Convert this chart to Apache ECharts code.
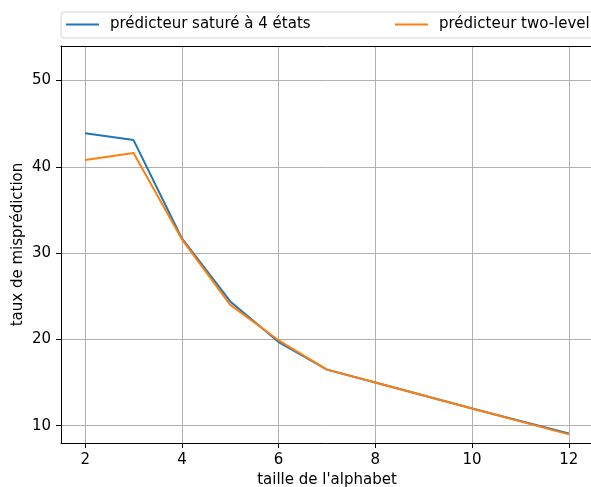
<!DOCTYPE html>
<html>
<head>
<meta charset="utf-8">
<script src="https://cdn.jsdelivr.net/npm/echarts@6/dist/echarts.min.js"></script>
<style>
  html, body { margin: 0; padding: 0; background: #fff; }
  #chart { width: 591px; height: 487px; }
</style>
</head>
<body>
<div id="chart"></div>
<script>
// taille de l'alphabet
var alphabetSizes = [2, 3, 4, 5, 6, 7, 8, 10, 12];
// taux de misprédiction
var satureValues = [43.9, 43.1, 31.7, 24.4, 19.7, 16.5, 15.0, 12.0, 9.1];
var twoLevelValues = [40.8, 41.6, 31.6, 24.0, 19.9, 16.5, 15.0, 12.0, 9.0];

var xTicks = [2, 4, 6, 8, 10, 12];
var yTicks = [10, 20, 30, 40, 50];

var seriesNames = ['prédicteur saturé à 4 états', 'prédicteur two-level'];

function pairs(xs, ys) {
  return xs.map(function (x, i) { return [x, ys[i]]; });
}

var font = 'DejaVu Sans';
var chart = echarts.init(document.getElementById('chart'));

var legendBase = {
  orient: 'horizontal',
  top: 17,
  padding: 0,
  icon: 'rect',
  itemWidth: 33,
  itemHeight: 2,
  textStyle: { fontFamily: font, fontSize: 15, color: '#000', padding: [0, 0, 0, 6] },
  selectedMode: false
};

var option = {
  animation: false,
  backgroundColor: '#fff',
  graphic: [
    {
      type: 'rect',
      z: -1,
      shape: { x: 61, y: 12, width: 540, height: 26, r: 3 },
      style: { fill: '#fff', stroke: '#d4d4d4', lineWidth: 1 }
    }
  ],
  legend: [
    Object.assign({ left: 66, data: [seriesNames[0]] }, legendBase),
    Object.assign({ left: 395, data: [seriesNames[1]] }, legendBase)
  ],
  grid: { left: 61, top: 46, width: 532, height: 397, containLabel: false, outerBoundsMode: 'none' },
  xAxis: [
    {
      type: 'value',
      min: 1.5,
      max: 12.5,
      name: "taille de l'alphabet",
      nameLocation: 'middle',
      nameGap: 30,
      nameMoveOverlap: false,
      nameTextStyle: { fontFamily: font, fontSize: 15, color: '#000' },
      axisLine: { onZero: false, lineStyle: { color: '#000', width: 1 } },
      axisTick: { show: true, length: 5, inside: false, customValues: xTicks, lineStyle: { color: '#000' } },
      axisLabel: { customValues: xTicks, margin: 10, fontFamily: font, fontSize: 15, color: '#000' },
      splitLine: { show: true, lineStyle: { color: '#b0b0b0', width: 1 } }
    },
    {
      type: 'value',
      position: 'top',
      min: 1.5,
      max: 12.5,
      axisLine: { show: true, onZero: false, lineStyle: { color: '#000', width: 1 } },
      axisTick: { show: false },
      axisLabel: { show: false },
      splitLine: { show: false }
    }
  ],
  yAxis: {
    type: 'value',
    min: 8,
    max: 54,
    name: 'taux de misprédiction',
    nameLocation: 'middle',
    nameGap: 35,
    nameMoveOverlap: false,
    nameTextStyle: { fontFamily: font, fontSize: 15, color: '#000' },
    axisLine: { show: true, onZero: false, lineStyle: { color: '#000', width: 1 } },
    axisTick: { show: true, length: 5, inside: false, customValues: yTicks, lineStyle: { color: '#000' } },
    axisLabel: { customValues: yTicks, margin: 10, fontFamily: font, fontSize: 15, color: '#000' },
    splitLine: { show: true, lineStyle: { color: '#b0b0b0', width: 1 } }
  },
  series: [
    {
      name: seriesNames[0],
      type: 'line',
      data: pairs(alphabetSizes, satureValues),
      showSymbol: false,
      symbol: 'none',
      itemStyle: { color: '#1f77b4' },
      lineStyle: { color: '#1f77b4', width: 2 }
    },
    {
      name: seriesNames[1],
      type: 'line',
      data: pairs(alphabetSizes, twoLevelValues),
      showSymbol: false,
      symbol: 'none',
      itemStyle: { color: '#ff7f0e' },
      lineStyle: { color: '#ff7f0e', width: 2 }
    }
  ]
};

chart.setOption(option);
</script>
</body>
</html>
